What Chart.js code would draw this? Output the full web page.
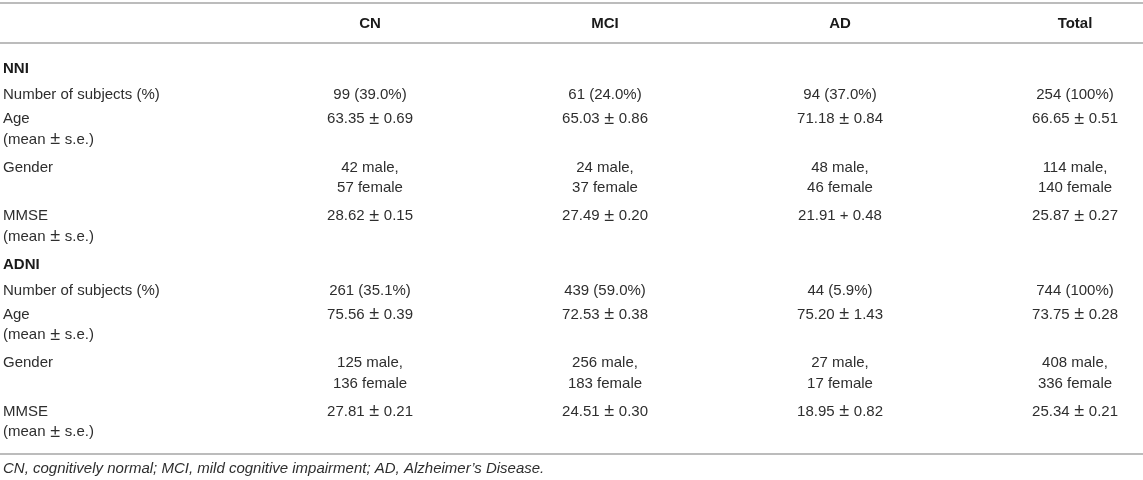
<!DOCTYPE html>
<html>
<head>
<meta charset="utf-8">
<script src="https://cdn.jsdelivr.net/npm/chart.js@4.4.1/dist/chart.umd.min.js"></script>
<style>
  html, body { margin: 0; padding: 0; background: #ffffff; }
  #wrap { width: 1143px; height: 480px; }
</style>
</head>
<body>
<div id="wrap"><canvas id="c" width="1143" height="480"></canvas></div>
<script>
// ---- table content ----
const columns = ['CN', 'MCI', 'AD', 'Total'];
const sections = ['NNI', 'ADNI'];
const rowLabels = [
  ['Number of subjects (%)'],
  ['Age', '(mean \u00b1 s.e.)'],
  ['Gender'],
  ['MMSE', '(mean \u00b1 s.e.)']
];

const nniSubjects = ['99 (39.0%)', '61 (24.0%)', '94 (37.0%)', '254 (100%)'];
const nniAge = ['63.35 \u00b1 0.69', '65.03 \u00b1 0.86', '71.18 \u00b1 0.84', '66.65 \u00b1 0.51'];
const nniGender = [['42 male,', '57 female'], ['24 male,', '37 female'], ['48 male,', '46 female'], ['114 male,', '140 female']];
const nniMmse = ['28.62 \u00b1 0.15', '27.49 \u00b1 0.20', '21.91 + 0.48', '25.87 \u00b1 0.27'];

const adniSubjects = ['261 (35.1%)', '439 (59.0%)', '44 (5.9%)', '744 (100%)'];
const adniAge = ['75.56 \u00b1 0.39', '72.53 \u00b1 0.38', '75.20 \u00b1 1.43', '73.75 \u00b1 0.28'];
const adniGender = [['125 male,', '136 female'], ['256 male,', '183 female'], ['27 male,', '17 female'], ['408 male,', '336 female']];
const adniMmse = ['27.81 \u00b1 0.21', '24.51 \u00b1 0.30', '18.95 \u00b1 0.82', '25.34 \u00b1 0.21'];

const footnote = 'CN, cognitively normal; MCI, mild cognitive impairment; AD, Alzheimer\u2019s Disease.';

const sectionData = [
  [nniSubjects, nniAge, nniGender, nniMmse],
  [adniSubjects, adniAge, adniGender, adniMmse]
];

// ---- layout (y scale units = px) ----
const Y_TOP_RULE = 3, Y_HEADER = 24, Y_HEAD_RULE = 43, Y_FIRST = 69;
const STEP_SECTION = 26, STEP_ONE = 24, STEP_TWO = 48.5;
const LINE_GAP = 20.5;

function toLines(v) { return Array.isArray(v) ? v : [v]; }

const rowsLayout = [];
let yCur = Y_FIRST;
sections.forEach((s, si) => {
  rowsLayout.push({ y: yCur, kind: 'section', section: si });
  yCur += STEP_SECTION;
  rowLabels.forEach((lab, ri) => {
    rowsLayout.push({ y: yCur, kind: 'row', section: si, row: ri });
    const nLines = Math.max(lab.length, ...sectionData[si][ri].map(v => toLines(v).length));
    yCur += nLines > 1 ? STEP_TWO : STEP_ONE;
  });
});
const Y_BOTTOM_RULE = yCur - 6;
const Y_FOOT = Y_BOTTOM_RULE + 15;

const X_MIN = -0.5745, X_MAX = 4.2893;

const labelPoints = rowsLayout.map(r => ({
  x: X_MIN, y: r.y,
  lines: r.kind === 'section' ? [sections[r.section]] : rowLabels[r.row],
  bold: r.kind === 'section'
}));
const datasets = [{ label: 'labels', data: labelPoints, align: 'left' }];
columns.forEach((col, ci) => {
  const pts = [];
  pts.push({ x: ci + 1, y: Y_HEADER, lines: [col], bold: true });
  rowsLayout.forEach(r => {
    if (r.kind !== 'row') return;
    pts.push({ x: ci + 1, y: r.y, lines: toLines(sectionData[r.section][r.row][ci]), bold: false });
  });
  datasets.push({ label: col, data: pts, align: 'center' });
});

const FONT = '"Liberation Sans", Arial, Helvetica, sans-serif';
const PM_PAD = 0.5;

function drawLine(ctx, text, x, y, align, baseFont) {
  const idx = text.indexOf(' \u00b1 ');
  if (idx < 0) {
    ctx.textAlign = align;
    ctx.fillText(text, x, y);
    return;
  }
  const a = text.slice(0, idx) + ' ';
  const b = ' ' + text.slice(idx + 3);
  const wa = ctx.measureText(a).width, wb = ctx.measureText(b).width;
  const pmFont = '18px ' + FONT;
  ctx.font = pmFont;
  const wpm = ctx.measureText('\u00b1').width;
  ctx.font = baseFont;
  const total = wa + wpm + wb + 2 * PM_PAD;
  let sx = align === 'left' ? x : x - total / 2;
  ctx.textAlign = 'left';
  ctx.fillText(a, sx, y);
  sx += wa + PM_PAD;
  ctx.font = pmFont;
  ctx.fillText('\u00b1', sx, y);
  ctx.font = baseFont;
  sx += wpm + PM_PAD;
  ctx.fillText(b, sx, y);
}

const tablePlugin = {
  id: 'tableText',
  afterDatasetsDraw(chart) {
    const ctx = chart.ctx;
    const ys = chart.scales.y;
    const area = chart.chartArea;
    ctx.save();
    ctx.strokeStyle = '#bcbcbc';
    ctx.lineWidth = 2;
    [Y_TOP_RULE, Y_HEAD_RULE, Y_BOTTOM_RULE].forEach(v => {
      const py = Math.round(ys.getPixelForValue(v));
      ctx.beginPath();
      ctx.moveTo(area.left, py);
      ctx.lineTo(area.right, py);
      ctx.stroke();
    });
    ctx.textBaseline = 'middle';
    chart.data.datasets.forEach((ds, di) => {
      const meta = chart.getDatasetMeta(di);
      meta.data.forEach((el, i) => {
        const p = ds.data[i];
        const f = (p.bold ? 'bold ' : '') + '15px ' + FONT;
        ctx.font = f;
        ctx.fillStyle = p.bold ? '#1a1a1a' : '#2e2e2e';
        const px = ds.align === 'left' ? el.x + 3 : el.x;
        p.lines.forEach((t, li) => drawLine(ctx, t, px, el.y + li * LINE_GAP, ds.align, f));
      });
    });
    ctx.font = 'italic 15px ' + FONT;
    ctx.fillStyle = '#2e2e2e';
    ctx.textAlign = 'left';
    ctx.fillText(footnote, area.left + 3, ys.getPixelForValue(Y_FOOT));
    ctx.restore();
  }
};

new Chart(document.getElementById('c'), {
  type: 'scatter',
  data: { datasets: datasets.map(d => Object.assign(d, { pointRadius: 0, pointHoverRadius: 0, showLine: false })) },
  options: {
    responsive: false,
    animation: false,
    events: [],
    layout: { padding: 0 },
    plugins: { legend: { display: false }, tooltip: { enabled: false } },
    scales: {
      x: { type: 'linear', display: false, min: X_MIN, max: X_MAX },
      y: { type: 'linear', display: false, min: 0, max: 480, reverse: true }
    }
  },
  plugins: [tablePlugin]
});
</script>
</body>
</html>
